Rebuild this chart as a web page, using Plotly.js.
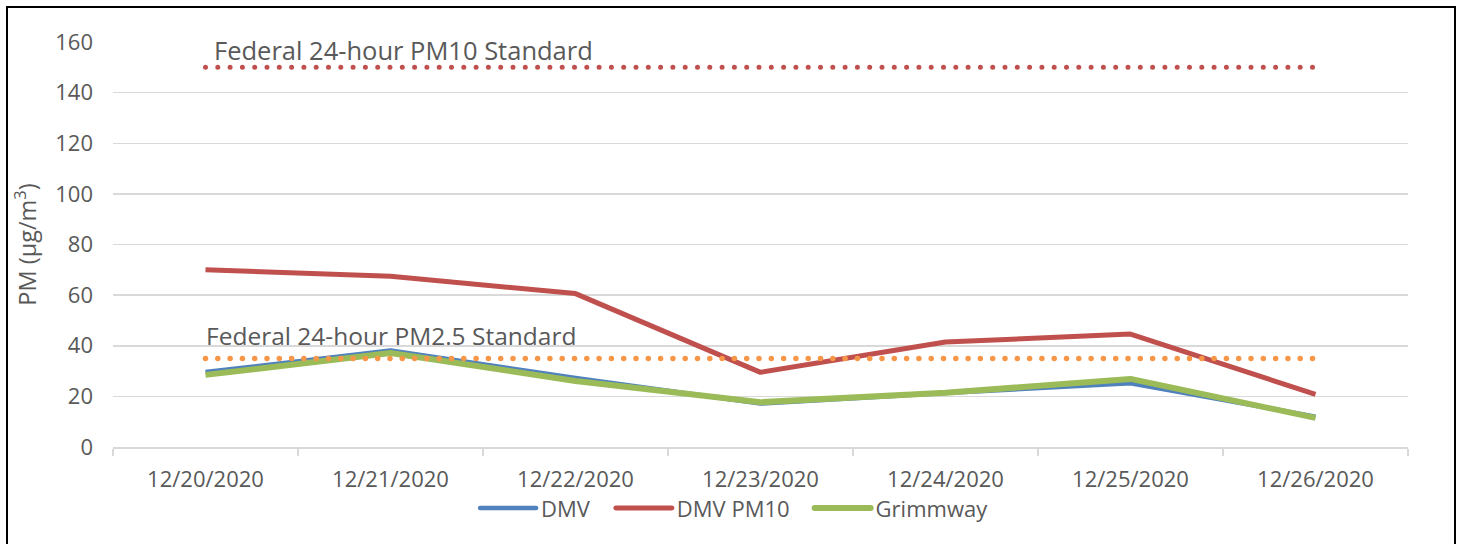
<!DOCTYPE html>
<html>
<head>
<meta charset="utf-8">
<script src="https://cdn.plot.ly/plotly-3.0.1.min.js"></script>
<style>
  html, body { margin: 0; padding: 0; background: #fff; }
  #wrap { position: relative; width: 1457px; height: 544px; overflow: hidden; }
  #chart { position: absolute; left: 0; top: 0; width: 1457px; height: 544px; }
  #frame { position: absolute; left: 6px; top: 6px; width: 1446px; height: 600px;
           border: 2px solid #000; pointer-events: none; }
</style>
</head>
<body>
<div id="wrap">
  <div id="chart"></div>
  <div id="frame"></div>
</div>
<script>
const dates = ['12/20/2020', '12/21/2020', '12/22/2020', '12/23/2020', '12/24/2020', '12/25/2020', '12/26/2020'];
const dmv = [29.6, 38.1, 27.3, 17.2, 21.3, 25.2, 12.0];
const dmvPM10 = [70.0, 67.5, 60.6, 29.5, 41.5, 44.6, 20.8];
const grimmway = [28.5, 37.1, 26.1, 17.7, 21.4, 26.9, 11.5];
const pm10Standard = 150;
const pm25Standard = 35;
const pm10Label = 'Federal 24-hour PM10 Standard';
const pm25Label = 'Federal 24-hour PM2.5 Standard';

const FONT = 'Open Sans, Noto Sans, sans-serif';
const TXT = '#595959';

const traces = [
  { x: dates, y: dmv, name: 'DMV', type: 'scatter', mode: 'lines',
    line: { color: '#4F81BD', width: 4.5 } },
  { x: dates, y: dmvPM10, name: 'DMV PM10', type: 'scatter', mode: 'lines',
    line: { color: '#C0504D', width: 5 } },
  { x: dates, y: grimmway, name: 'Grimmway', type: 'scatter', mode: 'lines',
    line: { color: '#9BBB59', width: 6 } },
  { x: dates, y: dates.map(() => pm10Standard), name: 'PM10 Standard', type: 'scatter', mode: 'lines',
    showlegend: false, hoverinfo: 'skip',
    line: { color: '#C0504D', width: 5, dash: 'dot' } },
  { x: dates, y: dates.map(() => pm25Standard), name: 'PM2.5 Standard', type: 'scatter', mode: 'lines',
    showlegend: false, hoverinfo: 'skip',
    line: { color: '#F79646', width: 5.5, dash: 'dot' } }
];

const layout = {
  width: 1457, height: 544,
  margin: { l: 113, r: 49, t: 42, b: 97 },
  paper_bgcolor: '#fff', plot_bgcolor: '#fff',
  font: { family: FONT, size: 22, color: TXT },
  showlegend: true,
  legend: { orientation: 'h', x: 0.480, xanchor: 'center', y: -0.151, yanchor: 'middle',
            font: { family: FONT, size: 22, color: TXT }, itemwidth: 56, tracegroupgap: 0 },
  xaxis: {
    type: 'category', tickson: 'boundaries', showgrid: false,
    ticks: 'outside', ticklen: 7, tickcolor: '#D9D9D9', tickwidth: 1.5,
    showline: true, linecolor: '#D9D9D9', linewidth: 1.5,
    tickfont: { family: FONT, size: 22, color: TXT },
    ticklabelstandoff: 12,
    range: [-0.5, 6.5], zeroline: false
  },
  yaxis: {
    range: [0, 160], dtick: 20, tick0: 0,
    showgrid: true, gridcolor: '#D9D9D9', gridwidth: 1.5,
    zeroline: false, showline: false, ticks: '',
    tickfont: { family: FONT, size: 22, color: TXT },
    ticklabelstandoff: 19,
    title: { text: 'PM (µg/m<sup>3</sup>)', font: { family: FONT, size: 23.5, color: TXT }, standoff: 12 }
  },
  annotations: [
    { text: pm10Label, xref: 'paper', x: 0.0765, xanchor: 'left', yref: 'y', y: 157, yanchor: 'middle',
      showarrow: false, font: { family: FONT, size: 25.5, color: TXT } },
    { text: pm25Label, xref: 'paper', x: 0.0705, xanchor: 'left', yref: 'y', y: 44, yanchor: 'middle',
      showarrow: false, font: { family: FONT, size: 24.5, color: TXT } }
  ]
};

Plotly.newPlot('chart', traces, layout, { displayModeBar: false, staticPlot: true }).then(function (gd) {
  const tr = gd.querySelectorAll('.scatterlayer .trace');
  [3, 4].forEach(function (i) {
    if (!tr[i]) return;
    tr[i].querySelectorAll('path.js-line').forEach(function (p) {
      p.style.strokeLinecap = 'round';
      p.style.strokeDasharray = '0px, 12.3px';
    });
  });
  gd.querySelectorAll('.scatterlayer .trace path.js-line').forEach(function (p) {
    p.style.strokeLinejoin = 'round';
  });
  // legend: round caps and wider gaps between entries
  gd.querySelectorAll('.legend [clip-path]').forEach(function (el) { el.removeAttribute('clip-path'); });
  const items = gd.querySelectorAll('.legend .traces');
  items.forEach(function (g, i) {
    g.querySelectorAll('path').forEach(function (p) { p.style.strokeLinecap = 'round'; });
    const t = g.getAttribute('transform') || '';
    const m = t.match(/translate\(\s*([-\d.]+)[ ,]+([-\d.]+)\s*\)/);
    if (m) {
      const nx = parseFloat(m[1]) + (i - 1) * 15;
      g.setAttribute('transform', 'translate(' + nx + ',' + m[2] + ')');
    }
  });
});
</script>
</body>
</html>
